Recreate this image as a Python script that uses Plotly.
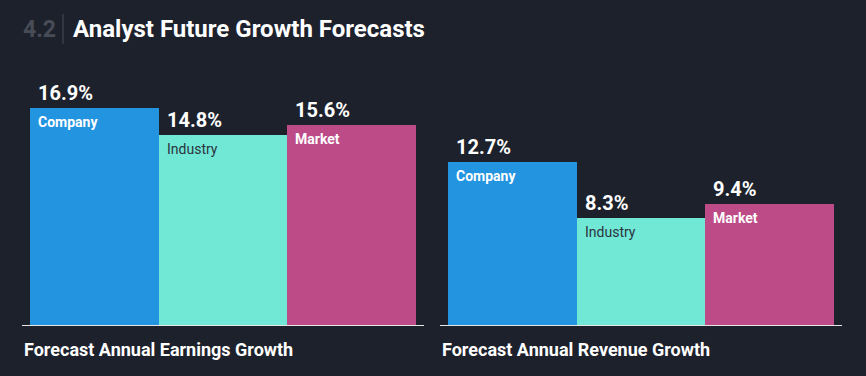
import plotly.graph_objects as go

categories = ["Company", "Industry", "Market"]
earnings_values = [16.9, 14.8, 15.6]
revenue_values = [12.7, 8.3, 9.4]
group_titles = ["Forecast Annual Earnings Growth", "Forecast Annual Revenue Growth"]
section_number = "4.2"
chart_title = "Analyst Future Growth Forecasts"

bar_colors = ["#2394df", "#71e7d6", "#bc4b87"]
label_colors = ["#ffffff", "#2b333c", "#ffffff"]
label_weights = ["bold", "normal", "bold"]
BG = "#1d212c"
FONT = "Roboto, Arial, sans-serif"

fig = go.Figure()
pad = 0.062
xs = [0, 1, 2]
for gi, vals in enumerate([earnings_values, revenue_values]):
    xa = "x" if gi == 0 else "x2"
    fig.add_trace(go.Bar(
        x=xs, y=vals, width=1.0,
        marker=dict(color=bar_colors, line=dict(width=0)),
        xaxis=xa, yaxis="y", hoverinfo="skip", showlegend=False,
    ))
    for i, v in enumerate(vals):
        fig.add_annotation(
            x=i - 0.5, y=v, xref=xa, yref="y",
            text=f"<b>{v:.1f}%</b>", showarrow=False,
            xanchor="left", yanchor="bottom", xshift=6, yshift=1,
            font=dict(family=FONT, size=20, color="#ffffff"),
        )
        txt = categories[i]
        if label_weights[i] == "bold":
            txt = f"<b>{txt}</b>"
        fig.add_annotation(
            x=i - 0.5, y=v, xref=xa, yref="y",
            text=txt, showarrow=False,
            xanchor="left", yanchor="top", xshift=6, yshift=-4,
            font=dict(family=FONT, size=14, color=label_colors[i]),
        )

domains = [[22 / 866, 424 / 866], [440 / 866, 842 / 866]]
axis_common = dict(
    range=[-0.5 - pad, 2.5 + pad], showgrid=False, zeroline=False,
    showticklabels=False, ticks="", showline=True, linecolor="#e6e6e6",
    linewidth=1, fixedrange=True,
)
fig.update_layout(
    xaxis=dict(domain=domains[0], anchor="y", **axis_common),
    xaxis2=dict(domain=domains[1], anchor="y", **axis_common),
    yaxis=dict(range=[0, 25.29], visible=False, domain=[0, 1], fixedrange=True),
    width=866, height=376,
    margin=dict(l=0, r=0, t=0, b=51),
    paper_bgcolor=BG, plot_bgcolor=BG,
    bargap=0, showlegend=False,
)

for gi, t in enumerate(group_titles):
    fig.add_annotation(
        x=domains[gi][0], y=0, xref="paper", yref="paper", yanchor="middle",
        text=f"<b>{t}</b>", showarrow=False, xanchor="left",
        font=dict(family=FONT, size=18, color="#ffffff"),
        yshift=-24,
    )

# title
fig.add_annotation(
    x=21 / 866, y=1, xref="paper", yref="paper", xanchor="left", yanchor="middle",
    text=f"<b>{section_number}</b>", showarrow=False, yshift=-29,
    font=dict(family=FONT, size=23, color="#474c57"),
)
fig.add_annotation(
    x=71 / 866, y=1, xref="paper", yref="paper", xanchor="left", yanchor="middle",
    text=f"<b>{chart_title}</b>", showarrow=False, yshift=-29,
    font=dict(family=FONT, size=24, color="#ffffff"),
)
fig.add_shape(type="line", xref="paper", yref="paper",
              x0=63 / 866, x1=63 / 866, y0=1 - 14 / 325, y1=1 - 44 / 325,
              line=dict(color="#474c57", width=1))

fig.write_html("out.html", config={"displayModeBar": False},
               post_script="document.body.style.margin='0';")
